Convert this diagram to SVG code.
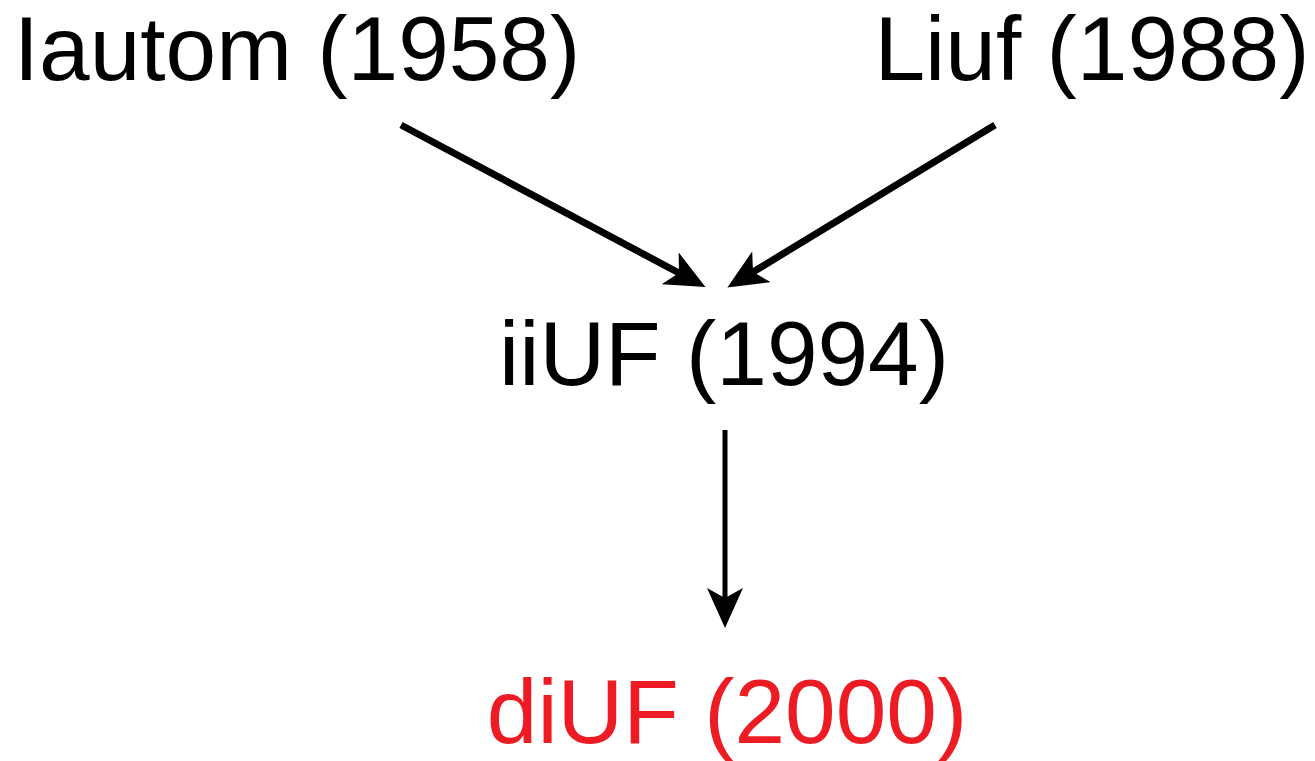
<svg xmlns="http://www.w3.org/2000/svg" width="1315" height="761" viewBox="0 0 1315 761">
<style>
text{font-family:"Liberation Sans",Arial,sans-serif;font-size:91px;text-anchor:middle;fill:#000}
.red{fill:#ED1C24}
.edge{stroke:#000;fill:none}
</style>
<defs>
<marker id="ah" viewBox="0 0 40 36" refX="10" refY="18" markerWidth="40" markerHeight="36" markerUnits="userSpaceOnUse" orient="auto">
<path d="M0,0 L40,18 L0,36 L10,18 z" fill="#000"/>
</marker>
</defs>
<rect width="1315" height="761" fill="#fff"/>
<g id="n1"><text x="297" y="80">Iautom (1958)</text></g>
<g id="n2"><text x="1092" y="80">Liuf (1988)</text></g>
<g id="n3"><text x="724" y="385">iiUF (1994)</text></g>
<g id="n4"><text class="red" x="727" y="743">diUF (2000)</text></g>
<g id="edges">
<line class="edge" stroke-width="7" x1="401" y1="125" x2="679" y2="273" marker-end="url(#ah)"/>
<line class="edge" stroke-width="7" x1="995" y1="125" x2="753" y2="272" marker-end="url(#ah)"/>
<line class="edge" stroke-width="5" x1="725" y1="430" x2="725" y2="598" marker-end="url(#ah)"/>
</g>
</svg>
